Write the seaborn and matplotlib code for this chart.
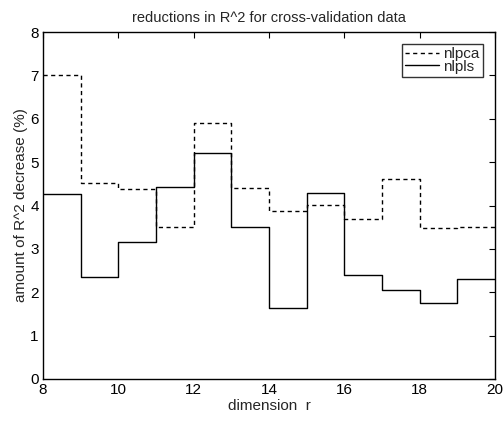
import numpy as np
import pandas as pd
import matplotlib
matplotlib.use("Agg")
import matplotlib.pyplot as plt
import seaborn as sns

# data
dimension = [8, 9, 10, 11, 12, 13, 14, 15, 16, 17, 18, 19]
nlpca = [7.0, 4.52, 4.37, 3.51, 5.91, 4.41, 3.88, 4.01, 3.68, 4.62, 3.47, 3.51]
nlpls = [4.26, 2.36, 3.16, 4.42, 5.21, 3.51, 1.64, 4.28, 2.40, 2.05, 1.76, 2.30]
x_ticks = [8, 10, 12, 14, 16, 18, 20]
y_ticks = [0, 1, 2, 3, 4, 5, 6, 7, 8]

sns.set_theme(style="white")
plt.rcParams["font.family"] = ["Liberation Sans", "DejaVu Sans"]
plt.rcParams["xtick.direction"] = "in"
plt.rcParams["ytick.direction"] = "in"

fig = plt.figure(figsize=(5.04, 4.24), dpi=100)
ax = fig.add_axes([43/504, 1-379/424, (495-43)/504, (379-32)/424])

# step edges (last step extends to x=20)
edges = dimension + [dimension[-1] + 1]
df = pd.DataFrame({
    "r": edges,
    "nlpca": nlpca + [nlpca[-1]],
    "nlpls": nlpls + [nlpls[-1]],
})

sns.lineplot(data=df, x="r", y="nlpca", ax=ax, drawstyle="steps-post",
             color="black", linestyle=(0, (3, 2.5)), linewidth=1.0, label="nlpca")
sns.lineplot(data=df, x="r", y="nlpls", ax=ax, drawstyle="steps-post",
             color="black", linestyle="-", linewidth=1.0, label="nlpls")

ax.set_xlim(8, 20)
ax.set_ylim(0, 8)
ax.set_xticks(x_ticks)
ax.set_yticks(y_ticks)
ax.tick_params(axis="both", which="both", direction="in", length=4, width=0.8,
               top=True, right=True, labelsize=11, colors="black", pad=3)
for s in ax.spines.values():
    s.set_visible(True)
    s.set_color("black")
    s.set_linewidth(1.0)

ax.set_title("reductions in R^2 for cross-validation data", fontsize=10.5, pad=7)
ax.set_xlabel("dimension  r", fontsize=11, labelpad=1)
ax.set_ylabel("amount of R^2 decrease (%)", fontsize=11, labelpad=2)

leg = ax.legend(loc="upper right", fontsize=11, frameon=True, fancybox=False,
                edgecolor="black", labelspacing=-0.1, handlelength=2.2,
                handletextpad=0.3, borderpad=0.2, borderaxespad=0.8)
leg.get_frame().set_linewidth(1.0)

fig.savefig("out.png", dpi=100)
